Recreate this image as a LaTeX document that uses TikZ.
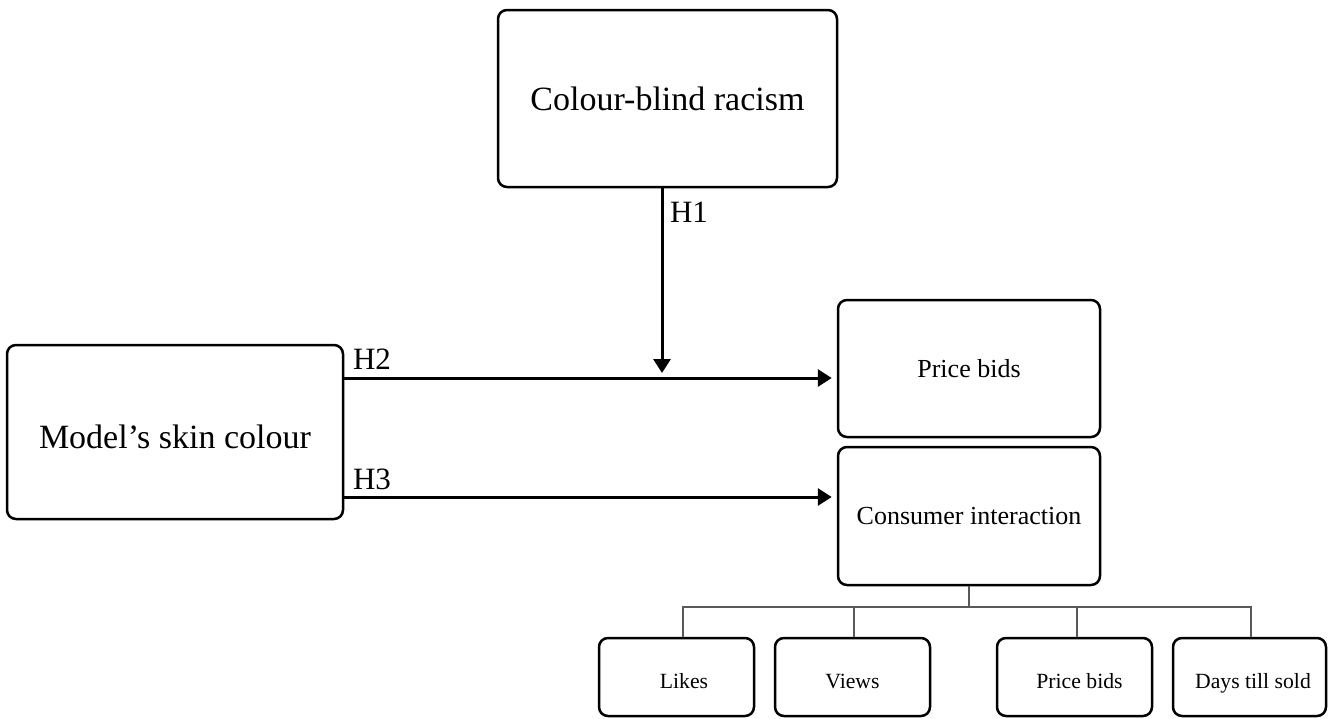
\documentclass[tikz,border=0pt]{standalone}
\usepackage{fontspec}
\setmainfont{Liberation Serif}
\usetikzlibrary{arrows.meta}
\begin{document}
\begin{tikzpicture}[x=1pt,y=-1pt,
  box/.style={draw, line width=2.5pt, rounded corners=9pt, inner sep=0pt, anchor=center, align=center},
  bigtext/.style={font=\fontsize{34}{40}\selectfont},
  midtext/.style={font=\fontsize{26}{31}\selectfont},
  smalltext/.style={font=\fontsize{21.7}{26}\selectfont, text height=22pt, text depth=0pt},
  hlabel/.style={font=\fontsize{31}{36}\selectfont, inner sep=0pt},
  arrowline/.style={line width=3pt, -{Triangle[width=17pt,length=14pt]}},
  treeline/.style={line width=1.2pt, draw=black!65}
]
\useasboundingbox (0,0) rectangle (1328,718);

% main boxes
\node[box, bigtext, minimum width=339pt, minimum height=177pt] (cbr) at (667.5,98.5) {Colour-blind racism};
\node[box, bigtext, text height=32pt, text depth=0pt, minimum width=336pt, minimum height=174pt] (msc) at (175,432) {Model’s skin colour};
\node[box, midtext, minimum width=262pt, minimum height=137pt] (pb) at (969,368.5) {Price bids};
\node[box, midtext, minimum width=262pt, minimum height=138pt] (ci) at (969,516) {Consumer interaction};

% bottom boxes
\node[box, smalltext, minimum width=155pt, minimum height=78pt] (likes) at (676.5,677) {\hspace*{15pt}Likes};
\node[box, smalltext, minimum width=155pt, minimum height=78pt] (views) at (852.5,677) {Views};
\node[box, smalltext, minimum width=155pt, minimum height=78pt] (pbs) at (1074.5,677) {\hspace*{10pt}Price bids};
\node[box, smalltext, minimum width=153pt, minimum height=78pt] (days) at (1249.5,677) {\hspace*{7pt}Days till sold};

% coordinates
\coordinate (h1end) at (662,373);
\coordinate (h2y) at (0,378);
\coordinate (h3y) at (0,497);
\coordinate (bus) at (969,607);

% arrows
\draw[arrowline] (cbr.south -| h1end) -- (h1end);
\draw[arrowline] (msc.east |- h2y) -- ([xshift=-5pt]pb.west |- h2y);
\draw[arrowline] (msc.east |- h3y) -- ([xshift=-5pt]ci.west |- h3y);

% labels
\node[hlabel] (lh1) at (689,212) {H1};
\node[hlabel] (lh2) at (372,359) {H2};
\node[hlabel] (lh3) at (372,479) {H3};

% tree
\draw[treeline] (ci.south) -- (bus);
\draw[treeline] ([xshift=6.5pt]likes.north) |- (bus) -| ([xshift=1.5pt]days.north);
\draw[treeline] ([xshift=1.5pt]views.north) -- ([xshift=1.5pt]views.north |- bus);
\draw[treeline] ([xshift=2.5pt]pbs.north) -- ([xshift=2.5pt]pbs.north |- bus);
\end{tikzpicture}
\end{document}
